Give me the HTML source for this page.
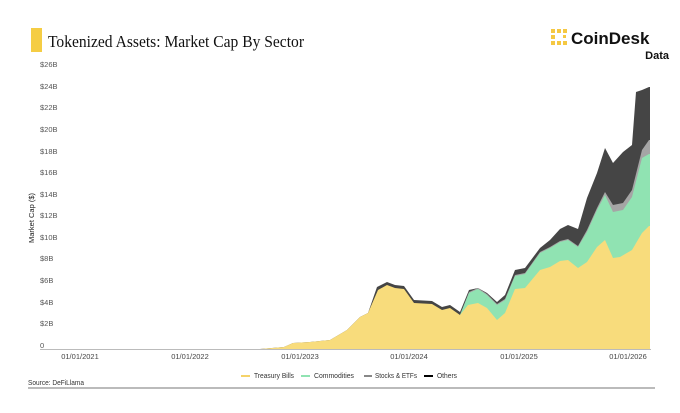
<!DOCTYPE html>
<html><head><meta charset="utf-8"><style>
body{margin:0;background:#fff;}
svg{display:block;}
</style></head><body>
<svg width="680" height="413" viewBox="0 0 680 413" xmlns="http://www.w3.org/2000/svg" font-family="Liberation Sans, sans-serif">
<rect width="680" height="413" fill="#fff"/>
<rect x="31" y="28" width="11" height="24" fill="#f5cd44"/>
<text x="48" y="47" font-family="Liberation Serif, serif" font-size="17" fill="#111" textLength="256" lengthAdjust="spacingAndGlyphs">Tokenized Assets: Market Cap By Sector</text>
<g fill="#f5c842">
<rect x="551" y="29" width="4" height="4"/><rect x="551" y="35" width="4" height="4"/><rect x="551" y="41" width="4" height="4"/>
<rect x="557" y="29" width="4" height="4"/><rect x="563" y="29" width="4" height="4"/><rect x="557" y="41" width="4" height="4"/><rect x="563" y="41" width="4" height="4"/><rect x="563" y="35" width="3" height="3"/>
</g>
<text x="571" y="44" font-size="17" font-weight="bold" fill="#111">CoinDesk</text>
<text x="669" y="59" font-size="11" font-weight="bold" fill="#111" text-anchor="end">Data</text>
<g font-size="7.5" fill="#555">
<text x="40" y="67">$26B</text><text x="40" y="89">$24B</text><text x="40" y="110">$22B</text><text x="40" y="132">$20B</text>
<text x="40" y="154">$18B</text><text x="40" y="175">$16B</text><text x="40" y="197">$14B</text><text x="40" y="218">$12B</text>
<text x="40" y="240">$10B</text><text x="40" y="261">$8B</text><text x="40" y="283">$6B</text><text x="40" y="305">$4B</text>
<text x="40" y="326">$2B</text><text x="40" y="348">0</text>
</g>
<text transform="translate(34,218) rotate(-90)" font-size="7.5" fill="#222" text-anchor="middle">Market Cap ($)</text>
<polygon fill="#454545" points="40,349 260,349 284,347 293,343 310,342 330,340 347,330 360,317 368,313 377,287 387,282 395,285 404,286 414,300 432,301 442,307 450,305 460,312 469,290 478,288 487,293 497,302 505,295 515,270 525,268 540,248 550,240 560,229 568,225 578,229 587,198 597,173 605,148 613,163 623,152 632,145 636,92 642,90 649,87 650,87 650,349"/>
<polygon fill="#a5a5a5" points="40,349 460,349 460,315 469,292 478,288 487,294 497,304 505,299 515,275 525,273 540,252 550,247 560,241 568,239 578,246 587,230 597,208 605,192 613,205 623,203 632,190 642,150 649,140 650,140 650,349"/>
<polygon fill="#90e3b2" points="40,349 460,349 460,315 469,293 478,289 487,295 497,305 505,300 515,276 525,274 540,253 550,248 560,242 568,240 578,247 587,232 597,210 605,195 613,212 623,210 632,197 642,158 649,154 650,154 650,349"/>
<polygon fill="#f8dc7c" points="40,349 260,349 284,347 293,343 310,342 330,340 347,330 360,317 368,313 378,290 387,285 395,288 404,289 414,303 432,304 442,310 450,308 460,315 468,305 478,303 487,308 497,320 505,313 515,289 525,288 540,270 550,267 560,261 568,260 578,268 587,262 597,247 605,240 613,258 620,257 632,250 642,233 649,226 650,226 650,349"/>
<line x1="40" y1="349.5" x2="651" y2="349.5" stroke="#bbb" stroke-width="1"/>
<g font-size="7.5" fill="#444" text-anchor="middle">
<text x="80" y="359">01/01/2021</text><text x="190" y="359">01/01/2022</text><text x="300" y="359">01/01/2023</text>
<text x="409" y="359">01/01/2024</text><text x="519" y="359">01/01/2025</text><text x="628" y="359">01/01/2026</text>
</g>
<g font-size="7" fill="#333">
<line x1="241" y1="376" x2="250" y2="376" stroke="#f5d36a" stroke-width="2"/><text x="254" y="378" textLength="40" lengthAdjust="spacingAndGlyphs">Treasury Bills</text>
<line x1="301" y1="376" x2="310" y2="376" stroke="#90e3b2" stroke-width="2"/><text x="314" y="378" textLength="40" lengthAdjust="spacingAndGlyphs">Commodities</text>
<line x1="364" y1="376" x2="372" y2="376" stroke="#888" stroke-width="2"/><text x="375" y="378" textLength="42" lengthAdjust="spacingAndGlyphs">Stocks &amp; ETFs</text>
<line x1="424" y1="376" x2="433" y2="376" stroke="#000" stroke-width="2"/><text x="437" y="378" textLength="20" lengthAdjust="spacingAndGlyphs">Others</text>
</g>
<text x="28" y="385" font-size="7" fill="#333" textLength="56" lengthAdjust="spacingAndGlyphs">Source: DeFiLlama</text>
<line x1="28" y1="388" x2="655" y2="388" stroke="#777" stroke-width="1"/>
</svg>
</body></html>
